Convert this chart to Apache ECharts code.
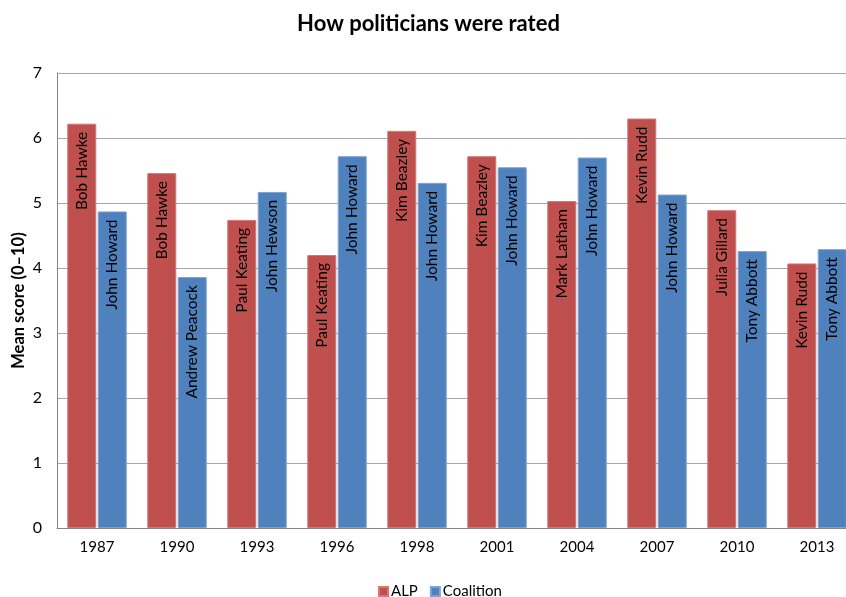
<!DOCTYPE html>
<html lang="en">
<head>
    <meta charset="UTF-8">
    <title>How politicians were rated</title>
    <script src="https://cdn.jsdelivr.net/npm/echarts@6/dist/echarts.min.js"></script>
    <style>
        html, body { margin: 0; padding: 0; background: #fff; overflow: hidden; }
    </style>
</head>
<body>
<!-- plot runs past the right edge in the original, so the canvas is a bit wider than the window -->
<div id="main" style="width: 857px;height:597px;"></div>
<script>
    var years = ['1987', '1990', '1993', '1996', '1998', '2001', '2004', '2007', '2010', '2013'];
    var alpScores = [6.22, 5.46, 4.74, 4.20, 6.11, 5.72, 5.03, 6.30, 4.89, 4.07];
    var coalitionScores = [4.87, 3.86, 5.17, 5.72, 5.31, 5.55, 5.70, 5.13, 4.26, 4.29];
    var alpLeaders = ['Bob Hawke', 'Bob Hawke', 'Paul Keating', 'Paul Keating', 'Kim Beazley',
        'Kim Beazley', 'Mark Latham', 'Kevin Rudd', 'Julia Gillard', 'Kevin Rudd'];
    var coalitionLeaders = ['John Howard', 'Andrew Peacock', 'John Hewson', 'John Howard', 'John Howard',
        'John Howard', 'John Howard', 'John Howard', 'Tony Abbott', 'Tony Abbott'];

    var font = 'Lato, "Open Sans", sans-serif';

    function barLabel(names) {
        return {
            show: true,
            position: 'insideTop',
            rotate: 90,
            align: 'right',
            verticalAlign: 'middle',
            distance: 8,
            color: '#000',
            fontFamily: font,
            fontSize: 15.5,
            formatter: function (p) {
                return names[p.dataIndex];
            }
        };
    }

    var myChart = echarts.init(document.getElementById('main'));
    var option = {
        animation: false,
        title: {
            text: 'How politicians were rated',
            left: 'center',
            top: 8,
            textStyle: {fontFamily: font, fontSize: 22, fontWeight: 'bold', color: '#000'}
        },
        legend: {
            top: 579,
            left: 373,
            itemWidth: 9,
            itemHeight: 9,
            itemGap: 12,
            icon: 'rect',
            textStyle: {fontFamily: font, fontSize: 15, color: '#000', padding: [0, 0, 0, -2]},
            data: ['ALP', 'Coalition']
        },
        grid: {
            left: 57,
            top: 73,
            bottom: 69,
            right: 0,
            outerBoundsMode: 'none'
        },
        xAxis: {
            type: 'category',
            data: years,
            axisTick: {show: false},
            axisLine: {lineStyle: {color: '#868686'}},
            axisLabel: {fontFamily: font, fontSize: 15, color: '#000', margin: 12}
        },
        yAxis: {
            type: 'value',
            min: 0,
            max: 7,
            interval: 1,
            name: 'Mean score (0\u201310)',
            nameLocation: 'middle',
            nameGap: 30,
            nameMoveOverlap: false,
            nameTextStyle: {fontFamily: font, fontSize: 16.5, fontWeight: 'bold', color: '#000'},
            axisLine: {show: true, lineStyle: {color: '#868686'}},
            axisTick: {show: false},
            axisLabel: {fontFamily: font, fontSize: 16, color: '#000', margin: 15},
            splitLine: {lineStyle: {color: '#a6a6a6'}}
        },
        series: [{
            name: 'ALP',
            type: 'bar',
            data: alpScores,
            barWidth: 29,
            barGap: '5%',
            itemStyle: {color: '#C0504D', borderColor: '#d07a78', borderWidth: 1},
            label: barLabel(alpLeaders)
        }, {
            name: 'Coalition',
            type: 'bar',
            data: coalitionScores,
            barWidth: 29,
            barGap: '5%',
            itemStyle: {color: '#4F81BD', borderColor: '#7ea3cf', borderWidth: 1},
            label: barLabel(coalitionLeaders)
        }]
    };
    myChart.setOption(option);
</script>
</body>
</html>
